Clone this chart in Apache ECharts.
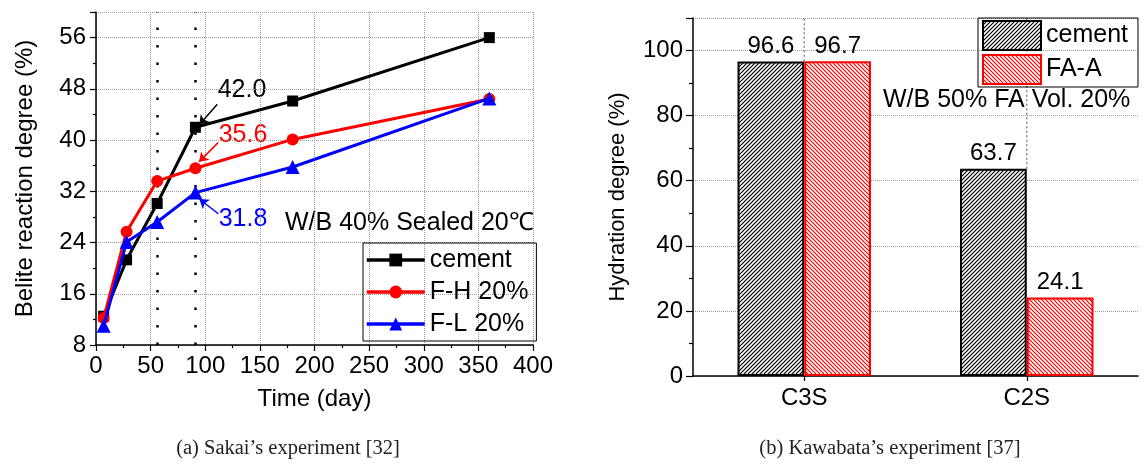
<!DOCTYPE html>
<html>
<head>
<meta charset="utf-8">
<script src="https://cdn.jsdelivr.net/npm/echarts@6/dist/echarts.min.js"></script>
<style>
html,body{margin:0;padding:0;background:#fff;}
#wrap{position:relative;width:1147px;height:467px;}
#a{position:absolute;left:0;top:0;width:590px;height:467px;}
#b{position:absolute;left:590px;top:0;width:557px;height:467px;}
</style>
</head>
<body>
<div id="wrap"><div id="a"></div><div id="b"></div></div>
<script>
// ---- Data: panel (a) Sakai's experiment ----
const days = [7, 28, 56, 91, 180, 360];
const cementLine = [12.5, 21.3, 30.1, 42.0, 46.1, 56.0];
const fh20 = [12.2, 25.7, 33.6, 35.6, 40.1, 46.4];
const fl20 = [11.0, 24.1, 27.2, 31.8, 35.8, 46.5];
const markedDays = [56, 91];
const lineNames = ['cement', 'F-H 20%', 'F-L 20%'];
// ---- Data: panel (b) Kawabata's experiment ----
const phases = ['C3S', 'C2S'];
const cementBar = [96.6, 63.7];
const faA = [96.7, 24.1];
const yMaxB = 110;

const FONT = 'Liberation Sans, Arial, sans-serif';
const SERIF = 'Liberation Serif, Times New Roman, serif';

function pairs(xs, ys) { return xs.map((x, i) => [x, ys[i]]); }

function hatch(color, dir) {
  const s = 4;
  const c = document.createElement('canvas');
  c.width = s; c.height = s;
  const g = c.getContext('2d');
  g.fillStyle = '#fff'; g.fillRect(0, 0, s, s);
  g.strokeStyle = color; g.lineWidth = 1.2;
  g.beginPath();
  if (dir === '/') {
    g.moveTo(0, s); g.lineTo(s, 0);
    g.moveTo(-1, 1); g.lineTo(1, -1);
    g.moveTo(s - 1, s + 1); g.lineTo(s + 1, s - 1);
  } else {
    g.moveTo(0, 0); g.lineTo(s, s);
    g.moveTo(-1, s - 1); g.lineTo(1, s + 1);
    g.moveTo(s - 1, -1); g.lineTo(s + 1, 1);
  }
  g.stroke();
  return c;
}

const gridLine = { show: true, lineStyle: { color: '#999', type: 'dotted', width: 1 } };
const axLine = { show: true, lineStyle: { color: '#000', width: 1.5 } };

function arrow(color, from, to) {
  return {
    silent: true, symbol: ['none', 'arrow'], symbolSize: 9,
    label: { show: false },
    lineStyle: { color: color, width: 1.5, type: 'solid' },
    data: [[{ coord: from }, { coord: to }]]
  };
}

// ---------- Chart A ----------
const chartA = echarts.init(document.getElementById('a'));
chartA.setOption({
  animation: false,
  textStyle: { fontFamily: FONT },
  grid: { left: 96, right: 57, top: 12, bottom: 122 },
  xAxis: {
    type: 'value', min: 0, max: 400, interval: 50,
    name: 'Time (day)', nameLocation: 'middle', nameGap: 42,
    nameTextStyle: { fontSize: 24, color: '#000', fontFamily: FONT },
    axisLine: axLine,
    axisTick: { show: true, inside: false, length: 6, lineStyle: { color: '#000', width: 1.2 } },
    minorTick: { show: true, splitNumber: 2, length: 3, lineStyle: { color: '#000', width: 1.2 } },
    axisLabel: { fontSize: 24, color: '#000', margin: 9, fontFamily: FONT },
    splitLine: gridLine
  },
  yAxis: {
    type: 'value', min: 8, max: 60, interval: 8,
    name: 'Belite reaction degree (%)', nameLocation: 'middle', nameGap: 59,
    nameTextStyle: { fontSize: 24, color: '#000', fontFamily: FONT },
    axisLine: axLine,
    axisTick: { show: true, inside: false, length: 6, lineStyle: { color: '#000', width: 1.2 } },
    minorTick: { show: true, splitNumber: 2, length: 3, lineStyle: { color: '#000', width: 1.2 } },
    axisLabel: { fontSize: 24, color: '#000', margin: 10, showMaxLabel: false, fontFamily: FONT },
    splitLine: gridLine
  },
  legend: {
    orient: 'vertical', left: 363, top: 243,
    padding: [4, 8, 4, 2], itemGap: 6, itemWidth: 58, itemHeight: 16,
    borderColor: '#000', borderWidth: 1,
    lineStyle: { width: 3.5 },
    textStyle: { fontSize: 25, color: '#000', lineHeight: 26, fontFamily: FONT },
    data: lineNames.map(n => ({ name: n, lineStyle: { width: 3.5 } }))
  },
  series: [
    {
      name: lineNames[0], type: 'line', data: pairs(days, cementLine),
      symbol: 'rect', symbolSize: 11, color: '#000',
      lineStyle: { width: 3, color: '#000' }, itemStyle: { color: '#000' }, z: 5,
      markLine: {
        silent: true, symbol: ['none', 'none'], label: { show: false },
        lineStyle: { color: '#000', width: 2.5, type: [2.5, 15] },
        data: markedDays.map(d => ({ xAxis: d }))
      }
    },
    {
      name: lineNames[1], type: 'line', data: pairs(days, fh20),
      symbol: 'circle', symbolSize: 12, color: '#ff0000',
      lineStyle: { width: 3, color: '#ff0000' }, itemStyle: { color: '#ff0000' }, z: 6,
      markLine: arrow('#ff0000', [111.8, 39.6], [94.3, 36.6])
    },
    {
      name: lineNames[2], type: 'line', data: pairs(days, fl20),
      symbol: 'triangle', symbolSize: 14, color: '#0000ff',
      lineStyle: { width: 3, color: '#0000ff' }, itemStyle: { color: '#0000ff' }, z: 7,
      markLine: arrow('#0000ff', [112, 28.5], [94.6, 30.8])
    },
    {
      name: 'arrow42', type: 'line', data: [], symbol: 'none',
      markLine: arrow('#000', [111, 45.6], [94.6, 42.4])
    }
  ],
  graphic: [
    { type: 'text', x: 242, y: 90, style: { text: '42.0', fill: '#000', font: '25px ' + FONT, textAlign: 'center', textVerticalAlign: 'middle' } },
    { type: 'text', x: 243, y: 135, style: { text: '35.6', fill: '#ff0000', font: '25px ' + FONT, textAlign: 'center', textVerticalAlign: 'middle' } },
    { type: 'text', x: 243, y: 219, style: { text: '31.8', fill: '#0000ff', font: '25px ' + FONT, textAlign: 'center', textVerticalAlign: 'middle' } },
    { type: 'text', x: 285, y: 223, style: { text: 'W/B 40% Sealed 20\u2103', fill: '#000', font: '25px ' + FONT, textAlign: 'left', textVerticalAlign: 'middle' } },
    { type: 'text', x: 288, y: 449, style: { text: '(a) Sakai\u2019s experiment [32]', fill: '#222', font: '20.5px ' + SERIF, textAlign: 'center', textVerticalAlign: 'middle' } }
  ]
});

// ---------- Chart B ----------
const centreGridSeries = phases.map((p, i) => ({
  name: 'grid-' + p, type: 'line', xAxisIndex: 1, z: 1, silent: true,
  symbol: 'none', animation: false,
  lineStyle: { color: '#777', width: 1.3, type: [2, 2.5] },
  data: [[i + 0.5, Math.max(cementBar[i], faA[i])], [i + 0.5, yMaxB]]
}));

const chartB = echarts.init(document.getElementById('b'));
chartB.setOption({
  animation: false,
  textStyle: { fontFamily: FONT },
  grid: { left: 103, right: 9, top: 18, bottom: 91 },
  xAxis: [
    {
      type: 'category', data: phases,
      axisLine: axLine,
      axisTick: { show: true, alignWithLabel: true, length: 5, lineStyle: { color: '#000', width: 1.2 } },
      axisLabel: { fontSize: 24, color: '#000', margin: 10, fontFamily: FONT },
      splitLine: { show: false }
    },
    {
      // hidden helper axis spanning the same categories (one unit per category)
      type: 'value', min: 0, max: phases.length, show: false,
      splitLine: { show: false }
    }
  ],
  yAxis: {
    type: 'value', min: 0, max: yMaxB, interval: 20,
    name: 'Hydration degree (%)', nameLocation: 'middle', nameGap: 64,
    nameTextStyle: { fontSize: 22, color: '#000', fontFamily: FONT },
    axisLine: axLine,
    axisTick: { show: true, inside: false, length: 7, lineStyle: { color: '#000', width: 1.2 } },
    minorTick: { show: true, splitNumber: 2, length: 4, lineStyle: { color: '#000', width: 1.2 } },
    axisLabel: { fontSize: 24, color: '#000', margin: 10, showMaxLabel: false, fontFamily: FONT },
    splitLine: gridLine
  },
  legend: {
    orient: 'vertical', left: 388, top: 18,
    padding: [2, 10, 2, 4], itemGap: 3, itemWidth: 58, itemHeight: 29,
    borderColor: '#000', borderWidth: 1, icon: 'rect',
    textStyle: { fontSize: 25, color: '#000', fontFamily: FONT },
    data: ['cement', 'FA-A']
  },
  series: centreGridSeries.concat([
    {
      name: 'cement', type: 'bar', data: cementBar,
      barGap: '0%', barCategoryGap: '40%', z: 3,
      itemStyle: { color: { image: hatch('#000', '/'), repeat: 'repeat' }, borderColor: '#000', borderWidth: 2 },
      label: { show: true, position: 'top', distance: 3, fontSize: 24, color: '#000', fontFamily: FONT }
    },
    {
      name: 'FA-A', type: 'bar', data: faA, z: 4,
      itemStyle: { color: { image: hatch('#ff0000', '\\'), repeat: 'repeat' }, borderColor: '#ff0000', borderWidth: 2 },
      label: { show: true, position: 'top', distance: 3, fontSize: 24, color: '#000', fontFamily: FONT }
    }
  ]),
  graphic: [
    { type: 'text', x: 293, y: 100, style: { text: 'W/B 50% FA Vol. 20%', fill: '#000', font: '25px ' + FONT, textAlign: 'left', textVerticalAlign: 'middle' } },
    { type: 'text', x: 300, y: 449, style: { text: '(b) Kawabata\u2019s experiment [37]', fill: '#222', font: '20.5px ' + SERIF, textAlign: 'center', textVerticalAlign: 'middle' } }
  ]
});
</script>
</body>
</html>
